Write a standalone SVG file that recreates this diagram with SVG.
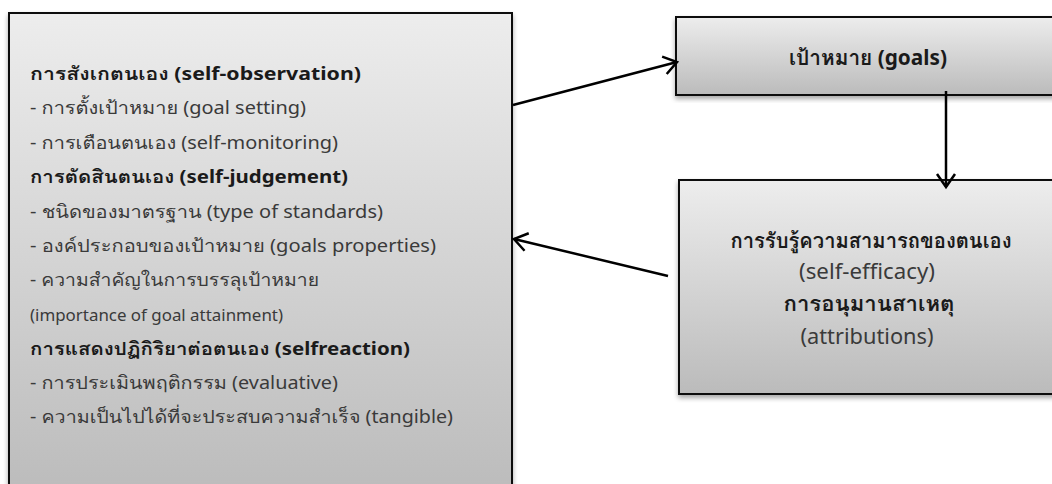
<svg xmlns="http://www.w3.org/2000/svg" width="1052" height="484" viewBox="0 0 1052 484">
<style>
.box{stroke:#111;stroke-width:2;fill:url(#g)}
.t{font-family:"Noto Sans","Loma","Noto Sans Thai Looped","Garuda","Noto Sans Thai","DejaVu Sans",sans-serif;font-size:18px;fill:#3a3a3a}
.r{font-size:21px}
.b{font-weight:bold;fill:#1a1a1a}
.c{text-anchor:middle}
.conn{stroke:#000;stroke-width:2.5;fill:none;marker-end:url(#ah)}
</style>
<defs>
<linearGradient id="g" x1="0" y1="0" x2="0" y2="1">
<stop offset="0" stop-color="#ededed"/>
<stop offset="1" stop-color="#bbbbbb"/>
</linearGradient>
<filter id="sh" x="-10%" y="-10%" width="120%" height="120%">
<feGaussianBlur in="SourceAlpha" stdDeviation="2.5"/>
<feOffset dx="0" dy="3" result="o"/>
<feComponentTransfer><feFuncA type="linear" slope="0.35"/></feComponentTransfer>
<feMerge><feMergeNode/><feMergeNode in="SourceGraphic"/></feMerge>
</filter>
<marker id="ah" markerUnits="userSpaceOnUse" markerWidth="22" markerHeight="22" refX="15" refY="11" orient="auto">
<path d="M2,2 L15,11 L2,20" fill="none" stroke="#000" stroke-width="2.5"/>
</marker>
</defs>
<g id="self-regulation">
<rect class="box" x="9" y="13" width="503" height="485" filter="url(#sh)"/>
<text class="t b" x="30" y="80" textLength="331" lengthAdjust="spacingAndGlyphs">การสังเกตนเอง (self-observation)</text>
<text class="t" x="30" y="114" textLength="276" lengthAdjust="spacingAndGlyphs">- การตั้งเป้าหมาย (goal setting)</text>
<text class="t" x="30" y="149" textLength="308" lengthAdjust="spacingAndGlyphs">- การเตือนตนเอง (self-monitoring)</text>
<text class="t b" x="30" y="183" textLength="318" lengthAdjust="spacingAndGlyphs">การตัดสินตนเอง (self-judgement)</text>
<text class="t" x="30" y="218" textLength="353" lengthAdjust="spacingAndGlyphs">- ชนิดของมาตรฐาน (type of standards)</text>
<text class="t" x="30" y="252" textLength="406" lengthAdjust="spacingAndGlyphs">- องค์ประกอบของเป้าหมาย (goals properties)</text>
<text class="t" x="30" y="286" textLength="289" lengthAdjust="spacingAndGlyphs">- ความสำคัญในการบรรลุเป้าหมาย</text>
<text class="t" x="30" y="321" style="font-size:17px" textLength="253" lengthAdjust="spacingAndGlyphs">(importance of goal attainment)</text>
<text class="t b" x="30" y="355" textLength="380" lengthAdjust="spacingAndGlyphs">การแสดงปฏิกิริยาต่อตนเอง (selfreaction)</text>
<text class="t" x="30" y="389" textLength="308" lengthAdjust="spacingAndGlyphs">- การประเมินพฤติกรรม (evaluative)</text>
<text class="t" x="30" y="423" textLength="423" lengthAdjust="spacingAndGlyphs">- ความเป็นไปได้ที่จะประสบความสำเร็จ (tangible)</text>
</g>
<g id="goals">
<rect class="box" x="676" y="17" width="420" height="78" filter="url(#sh)"/>
<text class="t r b c" x="868" y="65" textLength="158" lengthAdjust="spacingAndGlyphs">เป้าหมาย (goals)</text>
</g>
<g id="efficacy">
<rect class="box" x="679" y="180" width="420" height="214" filter="url(#sh)"/>
<text class="t r b c" x="871" y="248" textLength="281" lengthAdjust="spacingAndGlyphs">การรับรู้ความสามารถของตนเอง</text>
<text class="t r c" x="867" y="279" textLength="136" lengthAdjust="spacingAndGlyphs">(self-efficacy)</text>
<text class="t r b c" x="869" y="311" textLength="171" lengthAdjust="spacingAndGlyphs">การอนุมานสาเหตุ</text>
<text class="t r c" x="867" y="344" textLength="133" lengthAdjust="spacingAndGlyphs">(attributions)</text>
</g>
<g id="connectors">
<line class="conn" x1="513" y1="105" x2="677" y2="62"/>
<line class="conn" x1="946" y1="91" x2="946" y2="187"/>
<line class="conn" x1="668" y1="276" x2="514" y2="239"/>
</g>
</svg>
